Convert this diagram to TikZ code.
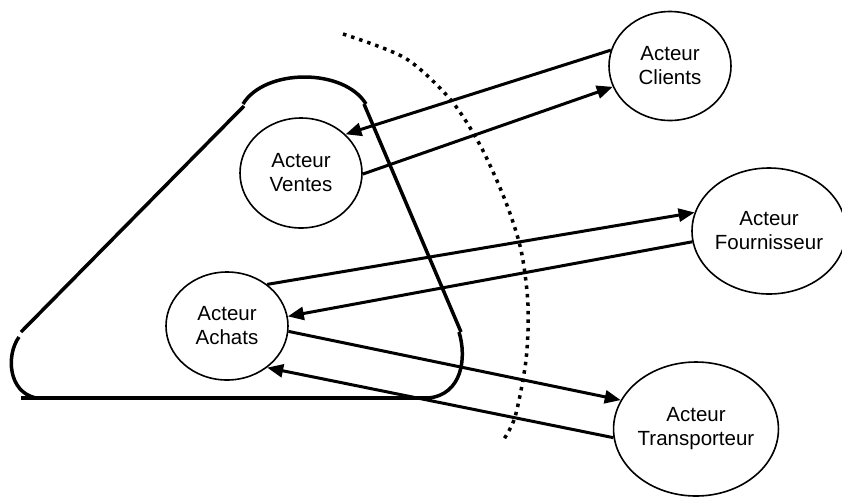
\documentclass[tikz,border=0pt]{standalone}
\usepackage{fontspec}
\setmainfont{Liberation Sans}
\usetikzlibrary{shapes.geometric,arrows.meta}
\begin{document}
\begin{tikzpicture}[
  x=1pt, y=-1pt,
  actor/.style={ellipse, draw, line width=1.6pt, inner sep=0pt, align=center, font=\fontsize{20.5}{24}\selectfont},
  flow/.style={line width=3pt, -{Triangle[length=16pt,width=13pt]}},
  outline/.style={line width=3.5pt},
  boundary/.style={line width=3.5pt, dash pattern=on 3.5pt off 5pt}
]
\useasboundingbox (0,0) rectangle (842,496);
\node[actor, minimum width=122pt, minimum height=109pt] (clients) at (670,66) {Acteur\\Clients};
\node[actor, minimum width=122pt, minimum height=110pt] (ventes) at (301,173) {Acteur\\Ventes};
\node[actor, minimum width=154pt, minimum height=126pt] (fourn) at (769,231) {Acteur\\Fournisseur};
\node[actor, minimum width=122pt, minimum height=108pt] (achats) at (227,326) {Acteur\\Achats};
\node[actor, minimum width=160pt, minimum height=134pt] (transp) at (696,429) {Acteur\\Transporteur};

% contour du domaine
\draw[outline] (21,332) -- (244,106);
\draw[outline] (243,104) .. controls (265,68) and (344,68) .. (366,104);
\draw[outline] (364,104) -- (461,332);
\draw[outline] (459,332) .. controls (467,358) and (462,395) .. (428,398);
\draw[outline] (21,398) -- (432,398);
\draw[outline] (19,337) .. controls (6,355) and (8,392) .. (36,398);

% frontiere
\draw[boundary] plot[smooth] coordinates {(343,34) (405,58) (450,99) (480,145) (505,200) (521,250) (528,305) (526,360) (515,417) (502,442)};

\draw[flow] (clients.165) -- (ventes.41);
\draw[flow] (ventes.-1) -- (clients.200);
\draw[flow] (achats.46) -- (fourn.166);
\draw[flow] (fourn.188) -- (achats.9);
\draw[flow] (achats.-5) -- (transp.159);
\draw[flow] (transp.186) -- (achats.-46);
\end{tikzpicture}
\end{document}
